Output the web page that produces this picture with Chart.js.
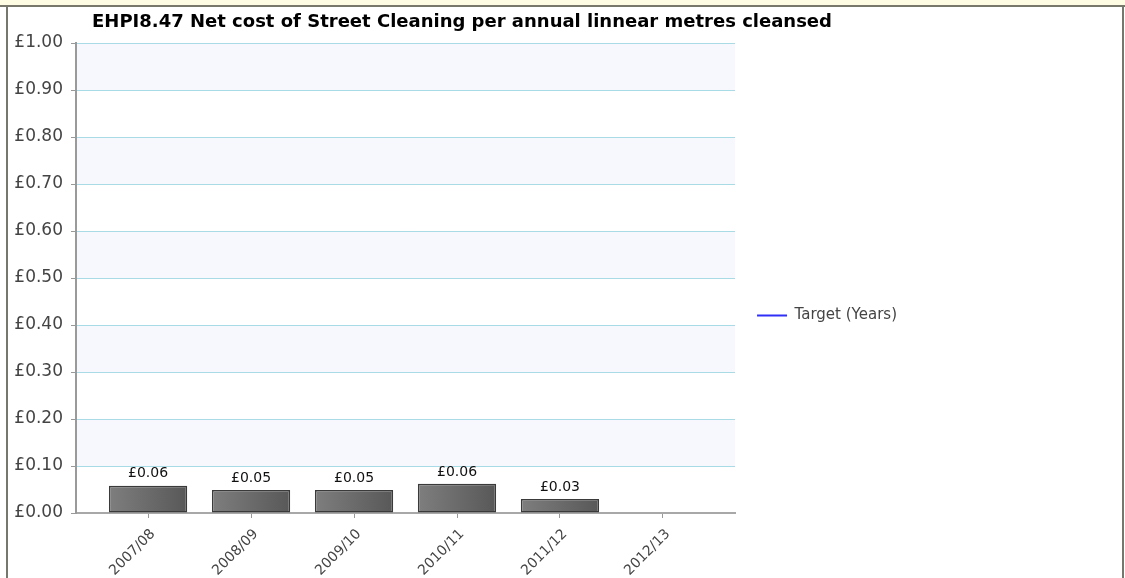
<!DOCTYPE html>
<html>
<head>
<meta charset="utf-8">
<script src="https://cdn.jsdelivr.net/npm/chart.js@4.4.0/dist/chart.umd.min.js"></script>
<style>
html, body { margin: 0; padding: 0; width: 1125px; height: 578px; overflow: hidden; background: #fff; }
#strip { position: absolute; left: 0; top: 0; width: 1125px; height: 5px; background: #fefce2; border-bottom: 2px solid #77776b; }
#panel { position: absolute; left: 6px; top: 7px; width: 1114px; height: 640px; border-left: 2px solid #77776b; border-right: 2px solid #77776b; background: #fff; }
#chart { position: absolute; left: 0; top: 0; }
</style>
</head>
<body>
<div id="strip"></div>
<div id="panel"><canvas id="chart" width="1114" height="620"></canvas></div>
<script>
var titleText = 'EHPI8.47 Net cost of Street Cleaning per annual linnear metres cleansed';
var categories = ['2007/08', '2008/09', '2009/10', '2010/11', '2011/12', '2012/13'];
var costValues = [0.058, 0.049, 0.049, 0.062, 0.030, null];
var targetLabel = 'Target (Years)';
var targetValues = [null, null, null, null, null, null];
var yTicks = [0, 0.1, 0.2, 0.3, 0.4, 0.5, 0.6, 0.7, 0.8, 0.9, 1.0];

var FONT = '"DejaVu Sans", Verdana, sans-serif';

function barFill(context) {
    var chart = context.chart;
    var xs = chart.scales.x;
    if (!xs || !chart.chartArea || context.type !== 'data') return '#6a6a6a';
    var cx = xs.getPixelForValue(context.dataIndex);
    var half = (xs.getPixelForValue(1) - xs.getPixelForValue(0)) * 0.8 * 0.95 / 2;
    var g = chart.ctx.createLinearGradient(cx - half, 0, cx + half, 0);
    g.addColorStop(0, '#7e7e7e');
    g.addColorStop(1, '#585858');
    return g;
}

// shaded bands between every other gridline
var bands = {
    id: 'bands',
    beforeDraw: function(chart) {
        var a = chart.chartArea, y = chart.scales.y, ctx = chart.ctx;
        ctx.save();
        ctx.fillStyle = '#f7f8fd';
        for (var i = 1; i < yTicks.length - 1; i += 2) {
            var top = y.getPixelForValue(yTicks[i + 1]);
            var bot = y.getPixelForValue(yTicks[i]);
            ctx.fillRect(a.left, top, a.right - a.left, bot - top);
        }
        ctx.restore();
    }
};

var valueLabels = {
    id: 'valueLabels',
    afterDatasetsDraw: function(chart) {
        var ctx = chart.ctx;
        var meta = chart.getDatasetMeta(0);
        ctx.save();
        ctx.font = '14px ' + FONT;
        ctx.fillStyle = '#111';
        ctx.textAlign = 'center';
        ctx.textBaseline = 'bottom';
        meta.data.forEach(function(bar, i) {
            if (costValues[i] === null) return;
            ctx.fillText('£' + costValues[i].toFixed(2), bar.x, bar.y - 5);
        });
        ctx.restore();
    }
};

var fittedTitle = {
    id: 'fittedTitle',
    afterDraw: function(chart) {
        var ctx = chart.ctx;
        ctx.save();
        ctx.font = 'bold 17px ' + FONT;
        var size = 17 * 740 / ctx.measureText(titleText).width;
        ctx.font = 'bold ' + size.toFixed(2) + 'px ' + FONT;
        ctx.fillStyle = '#000';
        ctx.textAlign = 'center';
        ctx.textBaseline = 'middle';
        ctx.fillText(titleText, 454, 15);
        ctx.restore();
    }
};

var ctx = document.getElementById('chart').getContext('2d');
window.myChart = new Chart(ctx, {
    type: 'bar',
    data: {
        datasets: [{
            label: 'Net cost',
            data: categories.map(function(c, i) { return {x: i, y: costValues[i]}; }),
            backgroundColor: barFill,
            borderColor: '#3a3a3a',
            borderWidth: 1.5,
            borderSkipped: false,
            barPercentage: 0.95,
            categoryPercentage: 0.8
        }, {
            type: 'line',
            label: targetLabel,
            data: categories.map(function(c, i) { return {x: i, y: targetValues[i]}; }),
            borderColor: '#2f2ff7',
            backgroundColor: '#2f2ff7',
            borderWidth: 2,
            pointStyle: 'line'
        }]
    },
    options: {
        responsive: false,
        animation: false,
        events: [],
        layout: {
            padding: {top: 36, bottom: 39, left: 0, right: 215}
        },
        scales: {
            x: {
                type: 'linear',
                offset: false,
                min: -0.7,
                max: 5.7,
                afterBuildTicks: function(s) {
                    s.ticks = s.ticks.filter(function(t) { return Number.isInteger(t.value) && t.value >= 0 && t.value < categories.length; });
                },
                afterFit: function(s) { s.height = 75; },
                ticks: {
                    stepSize: 1,
                    autoSkip: false,
                    maxRotation: 45,
                    minRotation: 45,
                    padding: 8,
                    labelOffset: 5,
                    color: '#444',
                    font: {family: FONT, size: 14},
                    callback: function(v) { return categories[v]; }
                },
                grid: {
                    offset: false,
                    drawOnChartArea: false,
                    drawTicks: true,
                    tickLength: 5,
                    tickColor: '#999'
                },
                border: {color: '#a8a8a8', width: 2}
            },
            y: {
                min: 0,
                max: 1,
                afterFit: function(s) { s.width = 68; },
                ticks: {
                    stepSize: 0.1,
                    padding: 8,
                    color: '#444',
                    font: {family: FONT, size: 17},
                    callback: function(v) { return '£' + v.toFixed(2); }
                },
                grid: {
                    color: '#a9dbe6',
                    tickColor: '#999',
                    tickLength: 5
                },
                border: {color: '#9a9a9a', width: 2}
            }
        },
        plugins: {
            title: {display: false},
            tooltip: {enabled: false},
            legend: {
                position: 'right',
                labels: {
                    usePointStyle: true,
                    pointStyle: 'line',
                    pointStyleWidth: 30,
                    padding: 22,
                    color: '#444',
                    font: {family: FONT, size: 15},
                    filter: function(item) { return item.datasetIndex === 1; }
                }
            }
        }
    },
    plugins: [bands, valueLabels, fittedTitle]
});
</script>
</body>
</html>
